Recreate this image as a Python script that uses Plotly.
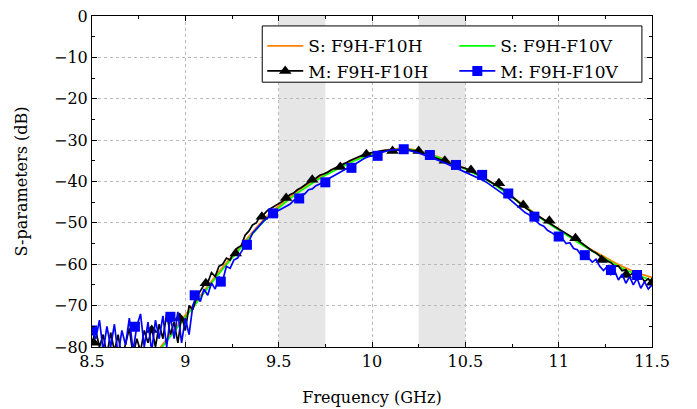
import numpy as np
import plotly.graph_objects as go

# frequency grids (GHz)
meas_freq = np.round(np.arange(8.5, 11.5001, 0.02), 2)
sim_freq = np.round(np.arange(8.85, 11.5001, 0.05), 2)

# simulated curves (dB)
sim_h = [
    -81, -78, -75, -72.3, -69.4, -66.4, -63.5, -60.7, -58, -55.3,
    -52.6, -50.1, -47.8, -45.8, -44, -42.3, -40.8, -39.4, -38.1, -36.9,
    -35.8, -34.8, -33.9, -33.2, -32.6, -32.2, -32, -32.1, -32.5, -33.1,
    -33.9, -34.8, -35.8, -36.8, -37.9, -39.1, -40.4, -41.9, -43.6, -45.3,
    -47, -48.6, -50.1, -51.6, -53, -54.4, -55.8, -57.1, -58.4, -59.6,
    -60.7, -61.7, -62.5, -63.2,
]
sim_v = [
    -81.5, -78.5, -75.5, -72.8, -69.9, -66.9, -64, -61.2, -58.5, -55.8,
    -53.1, -50.6, -48.3, -46.3, -44.5, -42.8, -41.2, -39.8, -38.5, -37.3,
    -36.1, -35.1, -34.2, -33.4, -32.8, -32.4, -32.2, -32.3, -32.7, -33.3,
    -34.1, -35, -36, -37, -38.1, -39.3, -40.6, -42.1, -43.8, -45.5,
    -47.2, -48.8, -50.3, -51.8, -53.2, -54.6, -56, -57.4, -58.7, -60,
    -61.2, -62.2, -63.1, -63.9,
]

# measured curves (dB)
meas_h = [
    -79, -76, -80, -77, -82, -76.5, -81, -77, -83, -79,
    -75.5, -82, -78, -81, -76, -79, -75.5, -80, -74.5, -78,
    -72, -77, -74, -79, -72.5, -76, -70, -71, -68, -66.5,
    -65, -64.5, -62, -63, -60.5, -60, -58.5, -59, -57, -56,
    -55.5, -53, -52, -50.5, -50, -48.5, -48, -47, -46.5, -46,
    -45.5, -44.8, -44, -43.2, -42.8, -42, -41.5, -40.8, -40.2, -39.6,
    -39.2, -38.5, -38.2, -37.8, -37.2, -36.8, -36.4, -36, -35.5, -35,
    -34.6, -34.2, -33.8, -33.4, -33.2, -33, -32.8, -32.6, -32.5, -32.4,
    -32.4, -32.3, -32.3, -32.3, -32.3, -32.4, -32.5, -32.6, -32.9, -33.2,
    -33.5, -33.9, -34.3, -34.6, -35, -35.3, -35.7, -36, -36.4, -36.6,
    -36.8, -37.2, -37.6, -38.1, -38.6, -39.1, -39.6, -40.1, -40.6, -41.1,
    -41.8, -42.5, -43.3, -44.1, -44.9, -45.6, -46.3, -46.9, -47.5, -48.1,
    -48.7, -49.2, -49.8, -50.3, -50.9, -51.5, -52, -52.6, -53.1, -53.7,
    -54.1, -54.8, -55.5, -56, -56.8, -57.3, -58, -58.4, -59.2, -59.6,
    -60.5, -60.4, -61.6, -61.3, -62.6, -62.2, -63.4, -62.8, -64.2, -63.5,
    -64.8,
]
meas_v = [
    -76, -78, -73.5, -81, -75, -80, -74.5, -82, -76, -79.5,
    -73, -81, -75, -72, -80, -74, -81, -73.5, -78, -72.5,
    -80, -72.5, -78, -71.5, -79, -73, -77, -70, -67.5, -69,
    -66, -67.5, -64.5, -66, -63, -64, -60.5, -61, -59, -58.5,
    -57, -55.5, -54.5, -52.5, -51.5, -50.5, -49.5, -48.8, -47.8, -47.5,
    -47, -46.5, -45.8, -45.5, -44.6, -44.2, -43.2, -43, -42, -41.8,
    -41, -40.6, -40.2, -39.5, -39, -38.3, -37.8, -37.3, -37, -36.6,
    -36, -35.4, -34.8, -34.4, -34, -33.8, -33.4, -33.1, -32.8, -32.6,
    -32.4, -32.3, -32.2, -32.2, -32.3, -32.5, -32.7, -33, -33.3, -33.6,
    -33.9, -34.2, -34.6, -35, -35.3, -35.7, -36.1, -36.5, -36.9, -37.3,
    -37.6, -38, -38.4, -38.8, -39.3, -39.8, -40.4, -41, -41.7, -42.3,
    -43, -43.6, -44.4, -45.2, -45.8, -46.6, -47.5, -48, -48.8, -49.6,
    -50.4, -50.8, -51.8, -52.3, -53, -53.5, -53.8, -55, -54.8, -56.2,
    -56.5, -57.8, -57, -58.5, -59.5, -58.8, -60.5, -61.5, -60.6, -62.5,
    -61.6, -63.8, -62.4, -64.6, -63, -65, -63.4, -65.8, -64.2, -66,
    -65,
]

# marker positions on the measured curves
mark_h_freq = [8.51, 8.82, 8.97, 9.11, 9.27, 9.41, 9.54, 9.68, 9.83, 9.97, 10.11,
               10.25, 10.39, 10.53, 10.68, 10.81, 10.95, 11.09, 11.23, 11.36, 11.5]
mark_h_db = [-79, -75.9, -73, -64.6, -57.4, -48.5, -44, -39.6, -36.5, -33.4, -32.6,
             -32.6, -35, -37.2, -40.4, -45.7, -49.5, -53.7, -59, -62.6, -64.5]
mark_v_freq = [8.5, 8.73, 8.92, 9.05, 9.19, 9.33, 9.47, 9.61, 9.75, 9.89, 10.03,
               10.17, 10.31, 10.45, 10.59, 10.73, 10.87, 11.0, 11.14, 11.28, 11.42]
mark_v_db = [-76, -75.1, -72.7, -67.5, -64.2, -55.3, -47.7, -44.1, -40.2, -36.7, -33.8,
             -32.2, -33.6, -36, -38.4, -42.9, -48.5, -53.3, -57.8, -61.4, -62.6]

# shaded bands (GHz)
bands = [(9.5, 9.75), (10.25, 10.5)]

ORANGE = "rgb(255,128,0)"
GREEN = "rgb(0,255,0)"
BLUE = "rgb(0,0,255)"
BLACK = "black"
FONT = "DejaVu Serif"
FS = 16

fig = go.Figure()

fig.add_trace(go.Scatter(x=sim_freq, y=sim_h, mode="lines", name="S: F9H-F10H",
                         legend="legend", line=dict(color=ORANGE, width=1.7)))
fig.add_trace(go.Scatter(x=sim_freq, y=sim_v, mode="lines", name="S: F9H-F10V",
                         legend="legend2", line=dict(color=GREEN, width=1.7)))
fig.add_trace(go.Scatter(x=meas_freq, y=meas_h, mode="lines", showlegend=False,
                         line=dict(color=BLACK, width=1.7)))
fig.add_trace(go.Scatter(x=mark_h_freq, y=mark_h_db, mode="markers", showlegend=False,
                         marker=dict(symbol="triangle-up", size=11, color=BLACK)))
fig.add_trace(go.Scatter(x=meas_freq, y=meas_v, mode="lines", showlegend=False,
                         line=dict(color=BLUE, width=1.7)))
fig.add_trace(go.Scatter(x=mark_v_freq, y=mark_v_db, mode="markers", showlegend=False,
                         marker=dict(symbol="square", size=10, color=BLUE)))
# legend-only entries for the measured curves
fig.add_trace(go.Scatter(x=[None], y=[None], mode="lines+markers", name="M: F9H-F10H",
                         legend="legend", line=dict(color=BLACK, width=1.7),
                         marker=dict(symbol="triangle-up", size=11, color=BLACK)))
fig.add_trace(go.Scatter(x=[None], y=[None], mode="lines+markers", name="M: F9H-F10V",
                         legend="legend2", line=dict(color=BLUE, width=1.7),
                         marker=dict(symbol="square", size=10, color=BLUE)))

for x0, x1 in bands:
    fig.add_shape(type="rect", xref="x", yref="y domain", x0=x0, x1=x1, y0=0, y1=1,
                  fillcolor="rgb(230,230,230)", line=dict(width=0), layer="below")

# frame around the two legend columns
fig.add_shape(type="rect", xref="x domain", yref="y domain", x0=0.304, x1=0.982,
              y0=0.80, y1=0.97, fillcolor="white", line=dict(color="black", width=1),
              layer="above")

axis_style = dict(
    showline=True, linecolor="black", linewidth=1, mirror="ticks",
    ticks="inside", ticklen=5, tickcolor="black", automargin=False,
    ticklabeloverflow="allow",
    showgrid=True, gridcolor="rgb(185,185,185)", griddash="dot", gridwidth=1,
    zeroline=False, tickfont=dict(family=FONT, size=FS, color="black"),
)

fig.update_xaxes(range=[8.5, 11.5], dtick=0.5, tick0=8.5,
                 minor=dict(dtick=0.25, ticks="inside", ticklen=3, tickcolor="black", showgrid=False),
                 title=dict(text="Frequency (GHz)", font=dict(family=FONT, size=FS, color="black"),
                            standoff=21),
                 **axis_style)
fig.update_yaxes(range=[-80, 0], dtick=10,
                 minor=dict(dtick=5, ticks="inside", ticklen=3, tickcolor="black", showgrid=False),
                 title=dict(text="S-parameters (dB)", font=dict(family=FONT, size=FS, color="black"),
                            standoff=22),
                 **axis_style)

legend_style = dict(
    orientation="v", yanchor="top", xanchor="left", y=0.963,
    bgcolor="rgba(0,0,0,0)", borderwidth=0, itemwidth=36, tracegroupgap=0,
    font=dict(family=FONT, size=17, color="black"),
)

# the page body adds an 8px offset, so the margins compensate for it
fig.update_layout(
    width=697, height=409,
    margin=dict(l=84, r=53, t=8, b=70),
    plot_bgcolor="white", paper_bgcolor="white",
    font=dict(family=FONT, size=FS, color="black"),
    legend=dict(x=0.304, **legend_style),
    legend2=dict(x=0.647, **legend_style),
)

fig.write_html("out.html")
